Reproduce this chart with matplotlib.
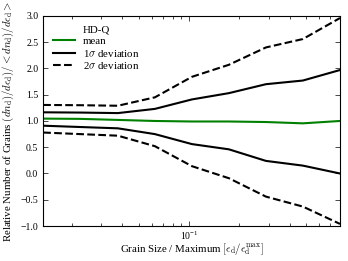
import numpy as np
import matplotlib
matplotlib.use('Agg')
import matplotlib.pyplot as plt

# grain size bins (fraction of maximum) and the curves
size=[0.01343,0.0224,0.0376,0.0626,0.1042,0.1736,0.289,0.481,0.802]
mean=[1.045,1.04,1.02,1.0,0.99,0.99,0.98,0.955,1.0]
sig1_up=[1.165,1.16,1.15,1.23,1.41,1.53,1.70,1.77,1.97]
sig1_lo=[0.91,0.885,0.86,0.75,0.56,0.46,0.24,0.15,0.0]
sig2_up=[1.305,1.30,1.29,1.45,1.84,2.07,2.40,2.56,2.96]
sig2_lo=[0.78,0.75,0.72,0.52,0.14,-0.09,-0.44,-0.63,-0.96]

plt.rcParams['font.family']='serif'
plt.rcParams['font.serif']=['Liberation Serif','DejaVu Serif']
plt.rcParams['mathtext.fontset']='cm'
plt.rcParams['xtick.direction']='in'
plt.rcParams['ytick.direction']='in'

fig=plt.figure(figsize=(3.48,2.61),dpi=100)
ax=fig.add_axes([0.124,0.134,0.853,0.805])

ax.plot(size,mean,color=(0,0.5,0),lw=1.5,label='mean')
ax.plot(size,sig1_up,'k-',lw=1.5,label=r'1$\sigma$ deviation')
ax.plot(size,sig1_lo,'k-',lw=1.5)
ax.plot(size,sig2_up,'k--',lw=1.5,label=r'2$\sigma$ deviation')
ax.plot(size,sig2_lo,'k--',lw=1.5)

ax.set_xscale('log')
ax.set_xlim(size[0],size[-1])
ax.set_ylim(-1.0,3.0)
ax.set_yticks(np.arange(-1.0,3.01,0.5))
ax.tick_params(which='both',top=True,right=True,labelsize=7,width=0.5)
ax.tick_params(which='major',length=3.5)
ax.tick_params(which='minor',length=2)
ax.tick_params(axis='x',pad=2.5)
for s in ax.spines.values():
    s.set_linewidth(0.8)

ax.set_xlabel(r'Grain Size / Maximum $[\epsilon_{\rm d}/\epsilon_{\rm d}^{\rm max}]$',fontsize=7.8,labelpad=-1)
ax.set_ylabel(r'Relative Number of Grains $(dn_{\rm d})/d\epsilon_{\rm d})/<dn_{\rm d})/d\epsilon_{\rm d}>$',fontsize=7.8,labelpad=3)

leg=ax.legend(loc='upper left',title='HD-Q',frameon=False,fontsize=7.8,title_fontsize=7.8,
              handlelength=2.0,labelspacing=0.15)

fig.savefig('out.png',dpi=100)
